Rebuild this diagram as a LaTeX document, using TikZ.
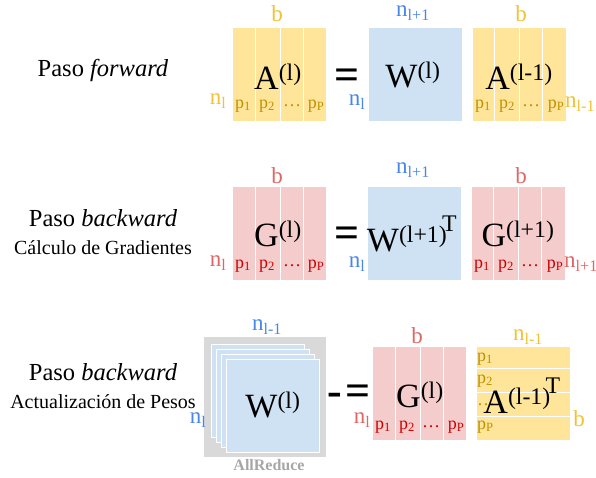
\documentclass[tikz,border=0pt]{standalone}
\usepackage{fontspec}
\setmainfont{Liberation Serif}
\usetikzlibrary{positioning}

\definecolor{goldfill}{HTML}{FFE599}
\definecolor{goldtext}{HTML}{F1C232}
\definecolor{golddark}{HTML}{BF9000}
\definecolor{redfill}{HTML}{F4CCCC}
\definecolor{redtext}{HTML}{E06666}
\definecolor{reddark}{HTML}{CC0000}
\definecolor{bluefill}{HTML}{CFE2F3}
\definecolor{bluetext}{HTML}{4A86E8}
\definecolor{greybox}{HTML}{D9D9D9}
\definecolor{greytext}{HTML}{A6A6A6}

\tikzset{
  mat/.style={inner sep=0pt, minimum width=93pt, minimum height=93pt},
  sep/.style={white, line width=1.2pt},
  big/.style={font=\fontsize{34}{36}\selectfont, inner sep=0pt},
  dimlab/.style={font=\fontsize{23}{25}\selectfont, inner sep=0pt},
  plab/.style={font=\fontsize{18}{20}\selectfont, inner sep=0pt},
  eqsign/.style={font=\fontsize{44}{44}\selectfont\bfseries, inner sep=0pt},
  title/.style={font=\fontsize{24.5}{26}\selectfont, inner sep=0pt},
  subtitle/.style={font=\fontsize{20}{22}\selectfont, inner sep=0pt},
}

\begin{document}
\begin{tikzpicture}[x=1pt, y=-1pt]
  \useasboundingbox (0,0) rectangle (596,477);

  % row labels
  \node[title] (fwd) at (103,70) {Paso \textit{forward}};
  \node[title] (bwd1) at (103,218) {Paso \textit{backward}};
  \node[subtitle] (grad) at (103,248) {Cálculo de Gradientes};
  \node[title] (bwd2) at (103,372) {Paso \textit{backward}};
  \node[subtitle] (upd) at (103,402) {Actualización de Pesos};

  % forward
  \node[mat, fill=goldfill] (A1) at (279.3,74.2) {};
  \foreach \d in {22.5,47.5,70.5}
    \draw[sep] ([xshift=\d pt]A1.north west) -- ([xshift=\d pt]A1.south west);
  \foreach \x/\t [count=\i] in {243/1, 267/2, 292/{\dots}, 316/P}
    \node[plab, text=golddark] (pa\i) at (\x,106) {\ifx\t P p\textsubscript{P}\else\ifnum\i=3 \dots\else p\textsubscript{\t}\fi\fi};
  \node[dimlab, text=goldtext] (ba1) at (277,14) {b};
  \node[dimlab, text=goldtext] (na1) at (218,101) {n\textsubscript{l}};
  \node[big] (tA1) at (278,77) {A\textsuperscript{(l)}};

  \node[eqsign] (eq1) at (347,79) {=};

  \node[mat, fill=bluefill] (W1) at (415.3,74.2) {};
  \node[dimlab, text=bluetext] (nw1t) at (413,13) {n\textsubscript{l+1}};
  \node[dimlab, text=bluetext] (nw1l) at (357,102) {n\textsubscript{l}};
  \node[big] (tW1) at (413,75) {W\textsuperscript{(l)}};

  \node[mat, fill=goldfill] (A0) at (519.5,74.2) {};
  \foreach \d in {22,47,70}
    \draw[sep] ([xshift=\d pt]A0.north west) -- ([xshift=\d pt]A0.south west);
  \foreach \x/\t [count=\i] in {483/1, 507/2, 531/{\dots}, 556/P}
    \node[plab, text=golddark] (pb\i) at (\x,106) {\ifx\t P p\textsubscript{P}\else\ifnum\i=3 \dots\else p\textsubscript{\t}\fi\fi};
  \node[dimlab, text=goldtext] (ba0) at (521,14) {b};
  \node[dimlab, text=goldtext, anchor=west] (na0) at (565,104) {n\textsubscript{l-1}};
  \node[big] (tA0) at (519,77) {A\textsuperscript{(l-1)}};

  % backward, gradients
  \node[mat, fill=redfill] (G1) at (279.3,233.8) {};
  \foreach \d in {22.5,47.5,70.5}
    \draw[sep] ([xshift=\d pt]G1.north west) -- ([xshift=\d pt]G1.south west);
  \foreach \x/\t [count=\i] in {243/1, 267/2, 292/{\dots}, 316/P}
    \node[plab, text=reddark] (pc\i) at (\x,266) {\ifx\t P p\textsubscript{P}\else\ifnum\i=3 \dots\else p\textsubscript{\t}\fi\fi};
  \node[dimlab, text=redtext] (bg1) at (277,176) {b};
  \node[dimlab, text=redtext] (ng1) at (218,263) {n\textsubscript{l}};
  \node[big] (tG1) at (278,234) {G\textsuperscript{(l)}};

  \node[eqsign] (eq2) at (347,237) {=};

  \node[mat, fill=bluefill] (W2) at (414.3,233.5) {};
  \node[dimlab, text=bluetext] (nw2t) at (413,170) {n\textsubscript{l+1}};
  \node[dimlab, text=bluetext] (nw2l) at (357,264) {n\textsubscript{l}};
  \node[big] (tW2) at (412,234) {W\textsuperscript{(l+1)\hspace{-0.2em}\raisebox{0.45em}{T}}};

  \node[mat, fill=redfill] (G2) at (518.3,233.5) {};
  \foreach \d in {22,47,70}
    \draw[sep] ([xshift=\d pt]G2.north west) -- ([xshift=\d pt]G2.south west);
  \foreach \x/\t [count=\i] in {482/1, 506/2, 530/{\dots}, 555/P}
    \node[plab, text=reddark] (pd\i) at (\x,266) {\ifx\t P p\textsubscript{P}\else\ifnum\i=3 \dots\else p\textsubscript{\t}\fi\fi};
  \node[dimlab, text=redtext] (bg2) at (521,176) {b};
  \node[dimlab, text=redtext, anchor=west] (ng2) at (564,264) {n\textsubscript{l+1}};
  \node[big] (tG2) at (518,234) {G\textsuperscript{(l+1)}};

  % backward, weight update
  \node[inner sep=0pt, minimum width=122pt, minimum height=120pt, fill=greybox] (allred) at (265,396.7) {};
  \foreach \k in {0,...,3}
    \node[mat, fill=bluefill, draw=white, line width=1pt] (sq\k) at (258.2+5*\k,390.5+5*\k) {};
  \node[dimlab, text=bluetext] (nw3t) at (267,327) {n\textsubscript{l-1}};
  \node[dimlab, text=bluetext] (nw3l) at (198,420) {n\textsubscript{l}};
  \node[big] (tW3) at (273,405) {W\textsuperscript{(l)}};
  \node[font=\fontsize{16}{18}\selectfont\bfseries, text=greytext, inner sep=0pt] (arlab) at (269,465) {AllReduce};

  \node[eqsign] (eq3) at (349,395) {-\hspace{3pt}=};

  \node[mat, fill=redfill] (G3) at (419.3,393.3) {};
  \foreach \d in {22.5,47.5,71}
    \draw[sep] ([xshift=\d pt]G3.north west) -- ([xshift=\d pt]G3.south west);
  \foreach \x/\t [count=\i] in {383/1, 407/2, 431/{\dots}, 456/P}
    \node[plab, text=reddark] (pe\i) at (\x,427) {\ifx\t P p\textsubscript{P}\else\ifnum\i=3 \dots\else p\textsubscript{\t}\fi\fi};
  \node[dimlab, text=redtext] (bg3) at (417,336) {b};
  \node[dimlab, text=redtext] (ng3) at (362,420) {n\textsubscript{l}};
  \node[big] (tG3) at (420,395) {G\textsuperscript{(l)}};

  \node[mat, fill=goldfill] (AT) at (523.7,393.3) {};
  \foreach \d in {22,46,69.5}
    \draw[sep] ([yshift=-\d pt]AT.north west) -- ([yshift=-\d pt]AT.north east);
  \foreach \y/\t [count=\i] in {359/1, 381/2, 405/{\dots}, 427/P}
    \node[plab, text=golddark, anchor=west] (pf\i) at (477,\y) {\ifx\t P p\textsubscript{P}\else\ifnum\i=3 \dots\else p\textsubscript{\t}\fi\fi};
  \node[dimlab, text=goldtext] (nat) at (528,337) {n\textsubscript{l-1}};
  \node[dimlab, text=goldtext] (bat) at (579,419) {b};
  \node[big] (tAT) at (522,396) {A\textsuperscript{(l-1)\hspace{-0.2em}\raisebox{0.45em}{T}}};
\end{tikzpicture}
\end{document}
